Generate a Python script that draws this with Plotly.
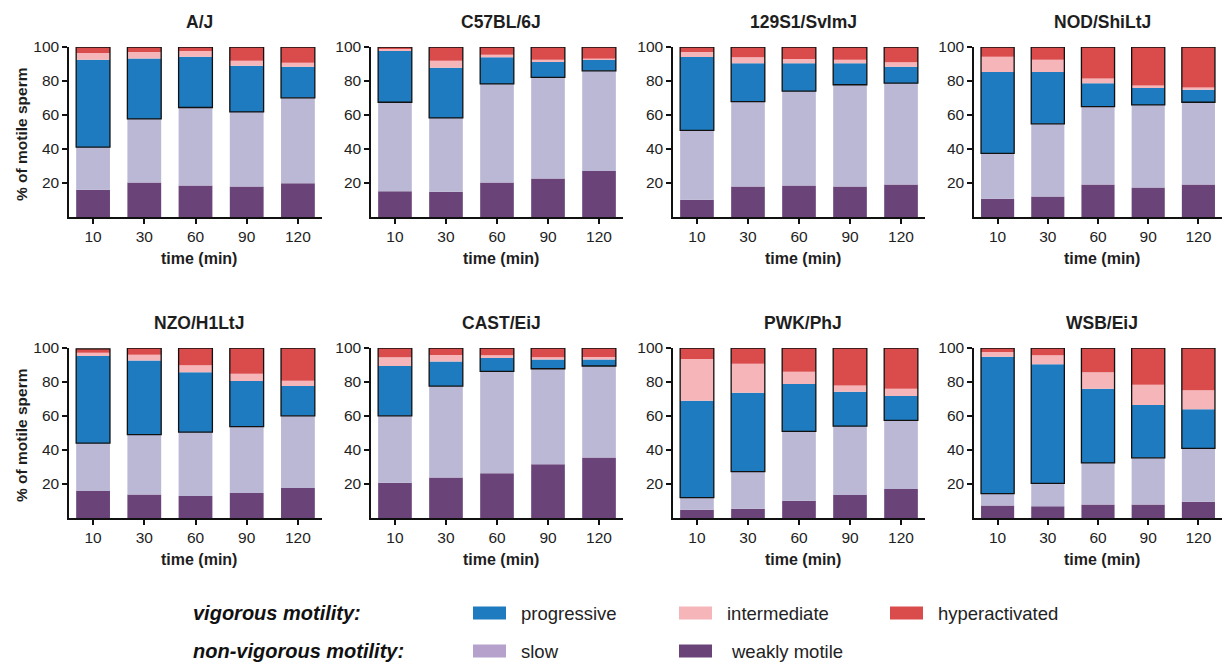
import plotly.graph_objects as go

W, H = 1223, 665

times = ["10", "30", "60", "90", "120"]
strains = ["A/J", "C57BL/6J", "129S1/SvImJ", "NOD/ShiLtJ",
           "NZO/H1LtJ", "CAST/EiJ", "PWK/PhJ", "WSB/EiJ"]

# segment percentages (bottom to top), per strain, per time point
weakly = {
    "A/J": [16.1, 20.3, 18.5, 17.9, 19.9],
    "C57BL/6J": [15.2, 14.8, 20.3, 22.6, 27.0],
    "129S1/SvImJ": [10.2, 17.9, 18.5, 17.9, 19.1],
    "NOD/ShiLtJ": [10.8, 12.0, 19.1, 17.3, 19.1],
    "NZO/H1LtJ": [15.9, 13.8, 13.0, 14.7, 17.7],
    "CAST/EiJ": [20.8, 23.8, 26.3, 31.6, 35.6],
    "PWK/PhJ": [4.9, 5.5, 10.2, 13.6, 17.1],
    "WSB/EiJ": [7.3, 6.9, 7.9, 7.9, 9.5],
}
slow = {
    "A/J": [25.0, 37.4, 45.9, 43.9, 50.2],
    "C57BL/6J": [52.3, 43.5, 58.0, 59.5, 59.0],
    "129S1/SvImJ": [40.8, 50.0, 55.5, 59.9, 59.6],
    "NOD/ShiLtJ": [26.6, 42.8, 45.8, 48.6, 48.4],
    "NZO/H1LtJ": [28.1, 35.3, 37.5, 39.1, 42.4],
    "CAST/EiJ": [39.3, 53.8, 59.9, 56.2, 53.8],
    "PWK/PhJ": [7.1, 21.8, 40.7, 40.4, 40.3],
    "WSB/EiJ": [7.0, 13.5, 24.5, 27.5, 31.4],
}
progressive = {
    "A/J": [51.4, 35.6, 29.9, 27.2, 18.3],
    "C57BL/6J": [30.3, 29.5, 15.6, 9.6, 6.5],
    "129S1/SvImJ": [43.1, 22.6, 16.5, 12.7, 9.7],
    "NOD/ShiLtJ": [47.9, 30.5, 13.8, 10.4, 7.3],
    "NZO/H1LtJ": [51.3, 43.6, 35.2, 26.8, 17.5],
    "CAST/EiJ": [29.3, 14.5, 7.9, 5.5, 3.9],
    "PWK/PhJ": [57.0, 46.4, 27.9, 20.3, 14.3],
    "WSB/EiJ": [80.6, 70.0, 43.6, 31.0, 23.1],
}
intermediate = {
    "A/J": [4.0, 3.7, 3.3, 2.9, 2.3],
    "C57BL/6J": [1.0, 4.1, 1.6, 0.8, 0.8],
    "129S1/SvImJ": [2.9, 3.4, 2.4, 2.0, 2.6],
    "NOD/ShiLtJ": [9.0, 7.2, 2.8, 1.1, 1.4],
    "NZO/H1LtJ": [1.9, 3.4, 4.1, 4.3, 3.1],
    "CAST/EiJ": [5.1, 3.8, 1.6, 1.2, 1.4],
    "PWK/PhJ": [24.5, 17.1, 7.3, 3.7, 4.3],
    "WSB/EiJ": [2.7, 5.3, 9.7, 12.0, 11.2],
}
hyper = {
    "A/J": [3.5, 3.0, 2.4, 8.1, 9.3],
    "C57BL/6J": [1.2, 8.1, 4.5, 7.5, 6.7],
    "129S1/SvImJ": [3.0, 6.1, 7.1, 7.5, 9.0],
    "NOD/ShiLtJ": [5.7, 7.5, 18.5, 22.6, 23.8],
    "NZO/H1LtJ": [2.3, 3.9, 10.2, 15.1, 19.3],
    "CAST/EiJ": [5.5, 4.1, 4.3, 5.5, 5.3],
    "PWK/PhJ": [6.5, 9.2, 13.9, 22.0, 24.0],
    "WSB/EiJ": [2.4, 4.3, 14.3, 21.6, 24.8],
}

series = [
    ("weakly motile", weakly, "#6a4479"),
    ("slow", slow, "#bbb8d6"),
    ("progressive", progressive, "#1f7bbf"),
    ("intermediate", intermediate, "#f5b5b9"),
    ("hyperactivated", hyper, "#da4b4b"),
]

FONT = "Liberation Sans, Arial, sans-serif"
TXT = "#1e1e1e"

# panel pixel geometry
col_px = [(69, 322), (371, 623), (673, 925), (974, 1222)]
row_px = [(47, 217), (348, 518)]  # (y of 100, y of 0)

fig = go.Figure()
annotations = []
layout_axes = {}


def px(xp, yp):
    return xp / W, (H - yp) / H


for i, s in enumerate(strains):
    r, c = divmod(i, 4)
    ax = "" if i == 0 else str(i + 1)
    xa, ya = "x" + ax, "y" + ax
    xs = list(range(len(times)))
    base = [0.0] * len(times)
    for name, data, color in series:
        vals = data[s]
        fig.add_trace(go.Bar(
            x=xs, y=vals, base=list(base), name=name, width=0.66,
            marker=dict(color=color, line=dict(width=0)),
            xaxis=xa, yaxis=ya, showlegend=False, hoverinfo="skip"))
        base = [b + v for b, v in zip(base, vals)]
    # black outline around the vigorous (progressive+intermediate+hyper) block
    nonvig = [w + sl for w, sl in zip(weakly[s], slow[s])]
    vig = [p + it + h for p, it, h in zip(progressive[s], intermediate[s], hyper[s])]
    fig.add_trace(go.Bar(
        x=xs, y=vig, base=nonvig, width=0.66,
        marker=dict(color="rgba(0,0,0,0)", line=dict(color="#111111", width=1.3)),
        xaxis=xa, yaxis=ya, showlegend=False, hoverinfo="skip"))

    x0, x1 = col_px[c]
    ytop, ybot = row_px[r]
    layout_axes["xaxis" + ax] = dict(
        domain=[x0 / W, x1 / W], anchor=ya, range=[-0.47, 4.47],
        tickmode="array", tickvals=xs, ticktext=times,
        showline=True, linecolor="#111111", linewidth=1.5,
        ticks="outside", ticklen=5, tickwidth=1.5, tickcolor="#111111",
        showgrid=False, zeroline=False, automargin=False,
        tickfont=dict(family=FONT, size=15.5, color=TXT),
        fixedrange=True)
    layout_axes["yaxis" + ax] = dict(
        domain=[(H - ybot) / H, (H - ytop) / H], anchor=xa, range=[0, 100],
        tickmode="array", tickvals=[20, 40, 60, 80, 100],
        showline=True, linecolor="#111111", linewidth=1.5,
        ticks="outside", ticklen=5, tickwidth=1.5, tickcolor="#111111",
        showgrid=False, zeroline=False, automargin=False,
        tickfont=dict(family=FONT, size=15.5, color=TXT),
        fixedrange=True)
    tx, ty = px((x0 + x1) / 2 + 4, ytop - 25)
    annotations.append(dict(
        text="<b>" + s + "</b>", x=tx, y=ty,
        xref="paper", yref="paper", xanchor="center", yanchor="middle",
        showarrow=False, font=dict(family=FONT, size=17.5, color=TXT)))
    tx, ty = px((x0 + x1) / 2 + 4, ybot + 41)
    annotations.append(dict(
        text="<b>time (min)</b>", x=tx, y=ty,
        xref="paper", yref="paper", xanchor="center", yanchor="middle",
        showarrow=False, font=dict(family=FONT, size=16, color=TXT)))
    if c == 0:
        tx, ty = px(21, (ytop + ybot) / 2 + 2)
        annotations.append(dict(
            text="<b>% of motile sperm</b>", x=tx, y=ty,
            xref="paper", yref="paper", xanchor="center", yanchor="middle",
            textangle=-90, showarrow=False,
            font=dict(family=FONT, size=15.5, color=TXT)))

# custom legend
shapes = []
leg_rows = [
    ("vigorous motility:", 613, [("progressive", "#1f7bbf", 473),
                                 ("intermediate", "#f5b5b9", 679),
                                 ("hyperactivated", "#da4b4b", 890)]),
    ("non-vigorous motility:", 651, [("slow", "#b5a1cc", 473),
                                     ("weakly motile", "#6a4479", 679)]),
]
for label, yc, items in leg_rows:
    tx, ty = px(191, yc)
    annotations.append(dict(
        text="<b><i>" + label + "</i></b>", x=tx, y=ty,
        xref="paper", yref="paper", xanchor="left", yanchor="middle",
        showarrow=False, font=dict(family=FONT, size=20, color="#111111")))
    for name, color, xs0 in items:
        shapes.append(dict(type="rect", xref="paper", yref="paper",
                           x0=xs0 / W, x1=(xs0 + 33) / W,
                           y0=(H - yc - 6.5) / H, y1=(H - yc + 6.5) / H,
                           fillcolor=color, line=dict(width=0)))
        tx, ty = px(xs0 + 46 + (4 if name == "weakly motile" else 0), yc)
        annotations.append(dict(
            text=name, x=tx, y=ty,
            xref="paper", yref="paper", xanchor="left", yanchor="middle",
            showarrow=False, font=dict(family=FONT, size=18.5, color="#222222")))

fig.update_layout(
    width=W, height=H, margin=dict(l=0, r=0, t=0, b=0),
    paper_bgcolor="white", plot_bgcolor="white",
    barmode="overlay", showlegend=False,
    annotations=annotations, shapes=shapes,
    font=dict(family=FONT),
    **layout_axes)

fig.write_html("out.html")
